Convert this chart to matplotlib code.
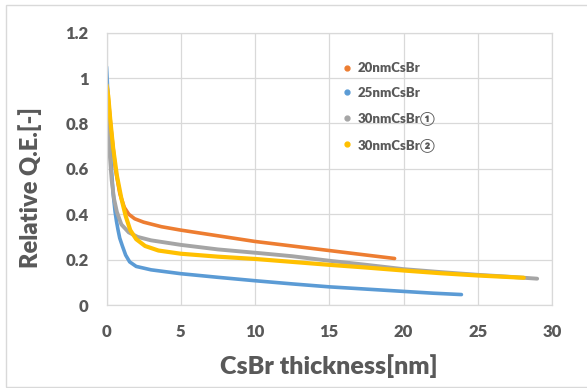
import matplotlib.pyplot as plt
from matplotlib.patches import Rectangle

# values (thickness in nm, relative Q.E.)
x_20nm = [0.0, 0.3, 0.6, 0.9, 1.2, 1.5, 1.9, 2.5, 3.7, 5.0, 7.5, 10.0, 12.5, 15.0, 17.5, 19.4]
y_20nm = [1.0, 0.78, 0.6, 0.49, 0.43, 0.40, 0.38, 0.365, 0.345, 0.33, 0.305, 0.28, 0.26, 0.24, 0.22, 0.205]

x_25nm = [0.0, 0.05, 0.15, 0.3, 0.45, 0.58, 0.67, 0.78, 0.89, 1.07, 1.29, 1.56, 2.0, 3.0, 5.0, 7.5,
          10.0, 12.5, 15.0, 17.5, 20.0, 22.0, 23.9]
y_25nm = [1.05, 0.99, 0.82, 0.63, 0.49, 0.41, 0.37, 0.33, 0.295, 0.26, 0.22, 0.19, 0.17, 0.155, 0.138, 0.122,
          0.107, 0.093, 0.08, 0.07, 0.06, 0.052, 0.046]

x_30nm_1 = [0.0, 0.1, 0.2, 0.35, 0.5, 0.7, 1.0, 1.5, 2.1, 3.0, 5.0, 7.5, 10.4, 12.5, 15.0, 17.5, 20.0,
            22.5, 25.0, 27.0, 29.0]
y_30nm_1 = [0.97, 0.8, 0.68, 0.55, 0.47, 0.41, 0.355, 0.32, 0.30, 0.285, 0.265, 0.245, 0.228, 0.215,
            0.195, 0.177, 0.158, 0.145, 0.133, 0.125, 0.116]

x_30nm_2 = [0.0, 0.12, 0.25, 0.45, 0.7, 1.0, 1.3, 1.6, 2.0, 2.6, 3.5, 5.0, 7.5, 10.0, 12.5, 15.0, 17.5,
            20.0, 22.5, 25.0, 28.1]
y_30nm_2 = [0.97, 0.92, 0.82, 0.69, 0.57, 0.47, 0.39, 0.33, 0.29, 0.26, 0.24, 0.226, 0.213, 0.203, 0.19,
            0.177, 0.165, 0.152, 0.14, 0.13, 0.12]

labels = ['20nmCsBr', '25nmCsBr', '30nmCsBr①', '30nmCsBr②']
colors = ['#ED7D31', '#5B9BD5', '#A5A5A5', '#FFC000']
x_ticks = [0, 5, 10, 15, 20, 25, 30]
y_ticks = [0, 0.2, 0.4, 0.6, 0.8, 1, 1.2]
y_ticklabels = ['0', '0.2', '0.4', '0.6', '0.8', '1', '1.2']

fonts = ['Lato', 'Noto Sans CJK JP', 'DejaVu Sans']
plt.rcParams['font.family'] = fonts
txt = '#595959'
grid = '#D9D9D9'

fig = plt.figure(figsize=(5.87, 3.88), dpi=100)
ax = fig.add_axes([106.5 / 587, 1 - 305 / 388, 445.5 / 587, 272.3 / 388])

# light chart-area frame
fig.patches.append(Rectangle((6 / 587, 1 / 388), 0.995, 382 / 388, transform=fig.transFigure,
                             fill=False, edgecolor=grid, linewidth=1.0))

series = [(x_20nm, y_20nm), (x_25nm, y_25nm), (x_30nm_1, y_30nm_1), (x_30nm_2, y_30nm_2)]
widths = [2.6, 2.6, 2.8, 3.0]
for (xs, ys), c, lab, lw in zip(series, colors, labels, widths):
    ax.plot(xs, ys, color=c, lw=lw, solid_capstyle='round', solid_joinstyle='round')
    ax.plot([], [], ls='none', marker='o', ms=3.5, color=c, label=lab)

ax.set_xlim(0, 30)
ax.set_ylim(0, 1.2)
ax.set_xticks(x_ticks)
ax.set_yticks(y_ticks)
ax.set_yticklabels(y_ticklabels)
ax.grid(True, color=grid, lw=0.9)
ax.set_axisbelow(True)
for s in ax.spines.values():
    s.set_color(grid)
    s.set_linewidth(0.9)
ax.tick_params(length=0, labelsize=12, labelcolor=txt)
ax.tick_params(axis='y', pad=13)
ax.tick_params(axis='x', pad=14)
for t in ax.get_xticklabels() + ax.get_yticklabels():
    t.set_fontweight('heavy')

leg = ax.legend(loc='upper left', bbox_to_anchor=(0.52, 0.91), frameon=False, fontsize=9.5,
                labelspacing=0.95, handlelength=0.6, handletextpad=0.5, borderaxespad=0)
for t in leg.get_texts():
    t.set_color(txt)
    t.set_fontweight('heavy')

fig.text(329 / 587, 1 - 366 / 388, 'CsBr thickness[nm]', ha='center', va='center',
         fontsize=18, fontweight='heavy', color=txt)
fig.text(30 / 587, 1 - 188 / 388, 'Relative Q.E.[-]', ha='center', va='center', rotation=90,
         fontsize=17, fontweight='heavy', color=txt)

fig.savefig('out.png', dpi=100)
